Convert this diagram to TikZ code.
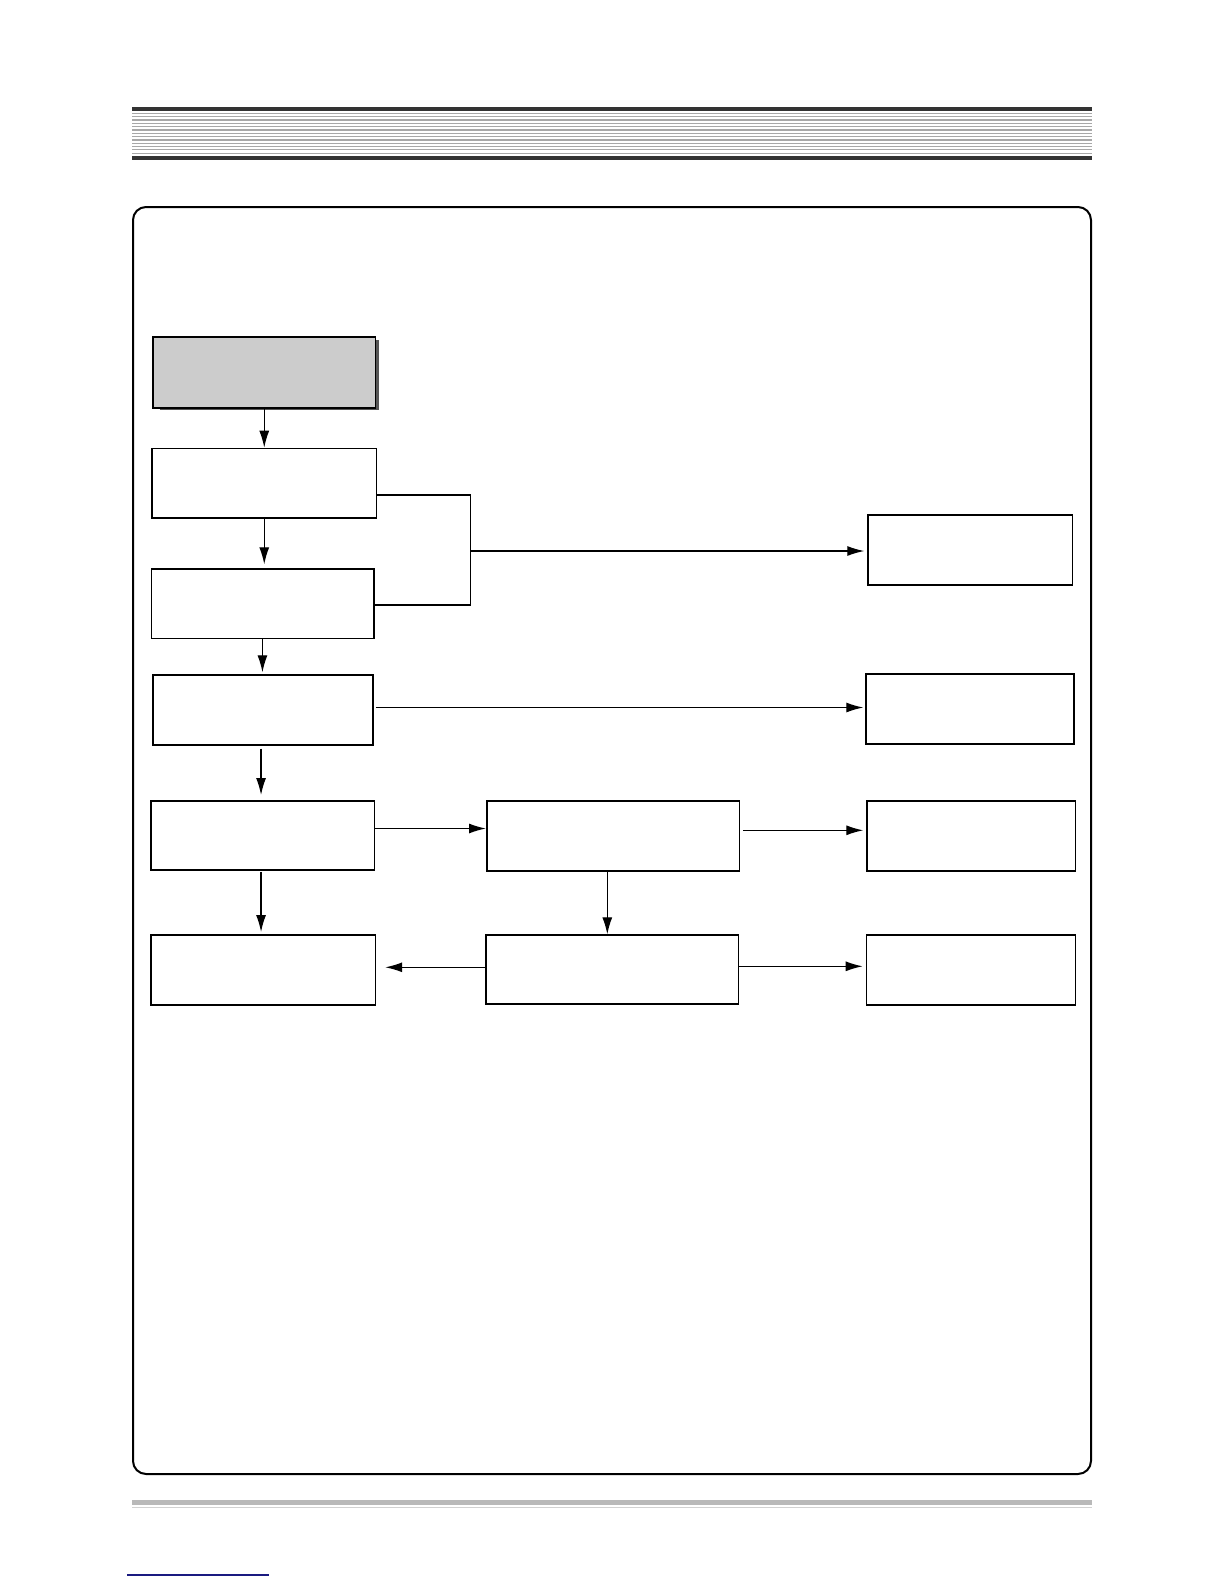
\documentclass[tikz,border=0pt]{standalone}
\usetikzlibrary{arrows.meta}
\definecolor{hdrdark}{HTML}{333333}
\definecolor{hdrline}{HTML}{A8A8A8}
\definecolor{boxgray}{HTML}{CCCCCC}
\definecolor{shadowgray}{HTML}{555555}
\definecolor{linkblue}{HTML}{1A1A80}
\tikzset{
  box/.style={draw=black, line width=1.5pt, fill=white, inner sep=0pt, anchor=north west},
  graybox/.style={box, fill=boxgray},
  arr/.style={line width=1.3pt, -{Latex[length=17pt,width=10pt]}},
  link/.style={line width=1.3pt},
}
\begin{document}
\begin{tikzpicture}[x=1pt,y=-1pt]
\useasboundingbox (0,0) rectangle (1224,1584);
% header
\fill[hdrdark] (132,107) rectangle (1092,111);
\foreach \k in {0,...,12} {
  \draw[hdrline, line width=1.2pt] (132,{113.5+3.3*\k}) -- (1092,{113.5+3.3*\k});
}
\fill[hdrdark] (132,156) rectangle (1092,160);
% frame
\draw[line width=2pt, rounded corners=13pt] (133,207) rectangle (1091,1474);
% footer bar
\fill[gray!55] (132,1500) rectangle (1092,1505);
\draw[gray!35, line width=0.8pt] (132,1507.5) -- (1092,1507.5);
\draw[linkblue, line width=1.5pt] (127,1575) -- (269,1575);
% shadow of first box
\fill[shadowgray] (160,340) rectangle (379,410);
% boxes
\node[graybox, minimum width=222.4pt, minimum height=71pt] (G) at (152.3,336) {};
\node[box, minimum width=224.4pt, minimum height=69.6pt] (L2) at (151.3,447.7) {};
\node[box, minimum width=222.6pt, minimum height=69.4pt] (L3) at (150.7,568.3) {};
\node[box, minimum width=220pt, minimum height=69.7pt] (L4) at (152.3,674.3) {};
\node[box, minimum width=223.4pt, minimum height=69.3pt] (L5) at (150.3,800) {};
\node[box, minimum width=224.4pt, minimum height=70.3pt] (L6) at (150.3,934) {};
\node[box, minimum width=252.7pt, minimum height=70pt] (M1) at (486,800.3) {};
\node[box, minimum width=252.4pt, minimum height=69pt] (M2) at (485.3,934.3) {};
\node[box, minimum width=204.4pt, minimum height=69.7pt] (R1) at (867.3,514.3) {};
\node[box, minimum width=208pt, minimum height=70pt] (R2) at (865.3,673.3) {};
\node[box, minimum width=208.4pt, minimum height=70pt] (R3) at (866.3,800.3) {};
\node[box, minimum width=209pt, minimum height=70pt] (R4) at (865.7,934.3) {};
% junction coordinates
\coordinate (j1) at (470.3,495);
\coordinate (j2) at (470.3,605);
\coordinate (j) at (470.3,551);
% left column arrows
\draw[arr] (G.south) -- (G.south |- L2.north);
\draw[arr, shorten >=4pt] (L2.south) -- (L2.south |- L3.north);
\draw[arr, shorten >=2pt] ([xshift=-0.3pt]L3.south) -- ([xshift=-0.3pt]L3.south |- L4.north);
\draw[arr, shorten <=3pt, shorten >=5pt] ([xshift=-2pt]L4.south) -- ([xshift=-2pt]L4.south |- L5.north);
\draw[arr, shorten <=1pt, shorten >=2pt] ([xshift=-1.7pt]L5.south) -- ([xshift=-1.7pt]L5.south |- L6.north);
% bracket to R1
\draw[link] (L2.east |- j1) -- (j1) -- (j2) -- (L3.east |- j2);
\draw[arr, shorten >=3pt] (j) -- (R1.west |- j);
% L4 to R2
\draw[arr, shorten <=2pt, shorten >=2pt] (L4.east |- 0,707.5) -- (R2.west |- 0,707.5);
% L5 to M1
\draw[arr] (L5.east |- 0,828.5) -- (M1.west |- 0,828.5);
% M1 to R3
\draw[arr, shorten <=3pt, shorten >=3pt] (M1.east |- 0,830.3) -- (R3.west |- 0,830.3);
% M1 to M2
\draw[arr] (M1.south -| 607.3,0) -- (M2.north -| 607.3,0);
% M2 to L6
\draw[arr, shorten >=9pt] (M2.west |- 0,967.3) -- (L6.east |- 0,967.3);
% M2 to R4
\draw[arr, shorten >=3pt] (M2.east |- 0,966.3) -- (R4.west |- 0,966.3);
\end{tikzpicture}
\end{document}
